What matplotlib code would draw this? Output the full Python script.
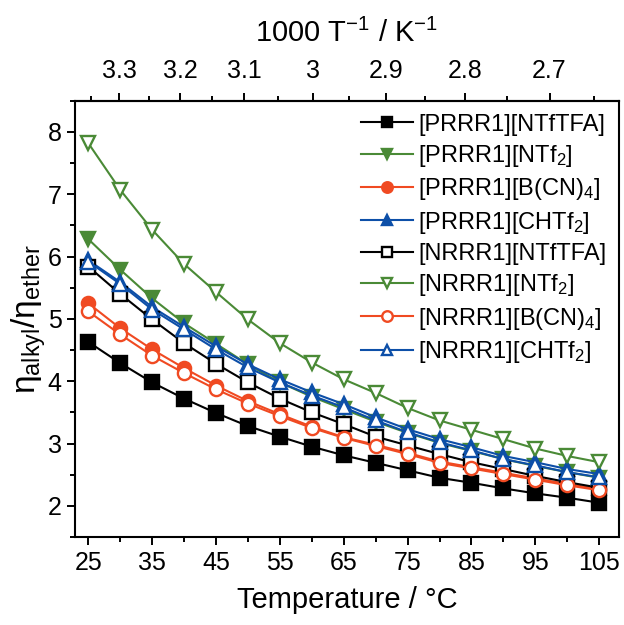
import matplotlib
matplotlib.use("Agg")
import matplotlib.pyplot as plt
from matplotlib.ticker import MultipleLocator, FixedLocator, FixedFormatter
import numpy as np

plt.rcParams['font.family'] = ['Liberation Sans', 'DejaVu Sans']
plt.rcParams['mathtext.fontset'] = 'custom'
plt.rcParams['mathtext.rm'] = 'Liberation Sans'
plt.rcParams['mathtext.it'] = 'Liberation Sans:italic'
plt.rcParams['mathtext.bf'] = 'Liberation Sans:bold'

temperature = [25, 30, 35, 40, 45, 50, 55, 60, 65, 70, 75, 80, 85, 90, 95, 100, 105]

p_ntftfa = [4.63, 4.29, 3.98, 3.72, 3.49, 3.28, 3.11, 2.95, 2.81, 2.69, 2.57, 2.45, 2.37, 2.28, 2.20, 2.13, 2.05]
p_ntf2 = [6.28, 5.79, 5.33, 4.93, 4.60, 4.27, 3.98, 3.75, 3.55, 3.35, 3.17, 3.01, 2.88, 2.75, 2.64, 2.54, 2.45]
p_bcn4 = [5.25, 4.85, 4.51, 4.21, 3.93, 3.68, 3.47, 3.27, 3.10, 2.98, 2.85, 2.71, 2.62, 2.53, 2.44, 2.35, 2.27]
p_chtf2 = [5.94, 5.59, 5.19, 4.87, 4.56, 4.27, 4.03, 3.82, 3.63, 3.42, 3.23, 3.07, 2.94, 2.80, 2.70, 2.59, 2.51]
n_ntftfa = [5.84, 5.40, 4.99, 4.61, 4.28, 3.98, 3.72, 3.50, 3.31, 3.11, 2.97, 2.83, 2.70, 2.59, 2.48, 2.38, 2.29]
n_ntf2 = [7.82, 7.07, 6.43, 5.88, 5.43, 4.99, 4.61, 4.30, 4.03, 3.81, 3.57, 3.37, 3.22, 3.07, 2.92, 2.80, 2.70]
n_bcn4 = [5.12, 4.75, 4.41, 4.13, 3.87, 3.64, 3.44, 3.25, 3.09, 2.96, 2.83, 2.69, 2.60, 2.51, 2.42, 2.33, 2.25]
n_chtf2 = [5.92, 5.56, 5.15, 4.83, 4.51, 4.22, 3.98, 3.77, 3.58, 3.37, 3.18, 3.02, 2.89, 2.75, 2.65, 2.54, 2.46]

labels = ['[PRRR1][NTfTFA]', '[PRRR1][NTf$_2$]', '[PRRR1][B(CN)$_4$]', '[PRRR1][CHTf$_2$]',
          '[NRRR1][NTfTFA]', '[NRRR1][NTf$_2$]', '[NRRR1][B(CN)$_4$]', '[NRRR1][CHTf$_2$]']

top_ticks = [3.3, 3.2, 3.1, 3.0, 2.9, 2.8, 2.7]
top_tick_labels = ['3.3', '3.2', '3.1', '3', '2.9', '2.8', '2.7']

black = '#000000'
green = '#4A8A36'
red = '#F04A22'
blue = '#0D4FA8'

series = [
    (p_ntftfa, black, 's', True),
    (p_ntf2, green, 'v', True),
    (p_bcn4, red, 'o', True),
    (p_chtf2, blue, '^', True),
    (n_ntftfa, black, 's', False),
    (n_ntf2, green, 'v', False),
    (n_bcn4, red, 'o', False),
    (n_chtf2, blue, '^', False),
]

fig = plt.figure(figsize=(6.24, 6.25), dpi=100)
ax = fig.add_axes([0.120, 0.1408, 0.872, 0.698])

for (vals, col, mk, filled), lab in zip(series, labels):
    ax.plot(temperature, vals, color=col, marker=mk, markersize=9.5,
            markerfacecolor=col if filled else 'white', markeredgecolor=col,
            markeredgewidth=1.7, linewidth=1.5, label=lab)

ax.set_xlim(22.9, 108.1)
ax.set_ylim(1.5, 8.5)
ax.xaxis.set_major_locator(FixedLocator([25, 35, 45, 55, 65, 75, 85, 95, 105]))
ax.xaxis.set_minor_locator(FixedLocator([30, 40, 50, 60, 70, 80, 90, 100]))
ax.yaxis.set_major_locator(MultipleLocator(1))
ax.yaxis.set_minor_locator(MultipleLocator(0.5))

ax.tick_params(which='both', direction='out', width=1.4, labelsize=18, top=False, right=False)
ax.tick_params(which='major', length=6)
ax.tick_params(which='minor', length=3.5)
ax.tick_params(axis='x', pad=4)
for s in ax.spines.values():
    s.set_linewidth(1.5)

ax.set_xlabel('Temperature / °C', fontsize=21, labelpad=8)
ax.set_ylabel(r'η$_{\mathrm{alkyl}}$/η$_{\mathrm{ether}}$', fontsize=24, labelpad=0)

def c2inv(c):
    c = np.asarray(c, dtype=float)
    return 1000.0 / (c + 273.15)

def inv2c(x):
    x = np.asarray(x, dtype=float)
    with np.errstate(divide='ignore'):
        return 1000.0 / x - 273.15

sec = ax.secondary_xaxis('top', functions=(c2inv, inv2c))
sec.xaxis.set_major_locator(FixedLocator(top_ticks))
sec.xaxis.set_major_formatter(FixedFormatter(top_tick_labels))
sec.xaxis.set_minor_locator(FixedLocator([3.35, 3.25, 3.15, 3.05, 2.95, 2.85, 2.75, 2.65]))
sec.tick_params(which='both', direction='out', width=1.4, labelsize=18)
sec.tick_params(which='major', length=6, pad=7)
sec.tick_params(which='minor', length=3.5)
sec.spines['top'].set_linewidth(1.5)
sec.set_xlabel('1000 T$^{-1}$ / K$^{-1}$', fontsize=21, labelpad=12)

leg = ax.legend(loc='upper right', frameon=False, fontsize=17, handlelength=2.2,
                handletextpad=0.2, labelspacing=0.31, markerscale=0.8,
                borderaxespad=0.15, bbox_to_anchor=(1.0, 1.0))

fig.savefig('out.png', dpi=100, facecolor='white')
